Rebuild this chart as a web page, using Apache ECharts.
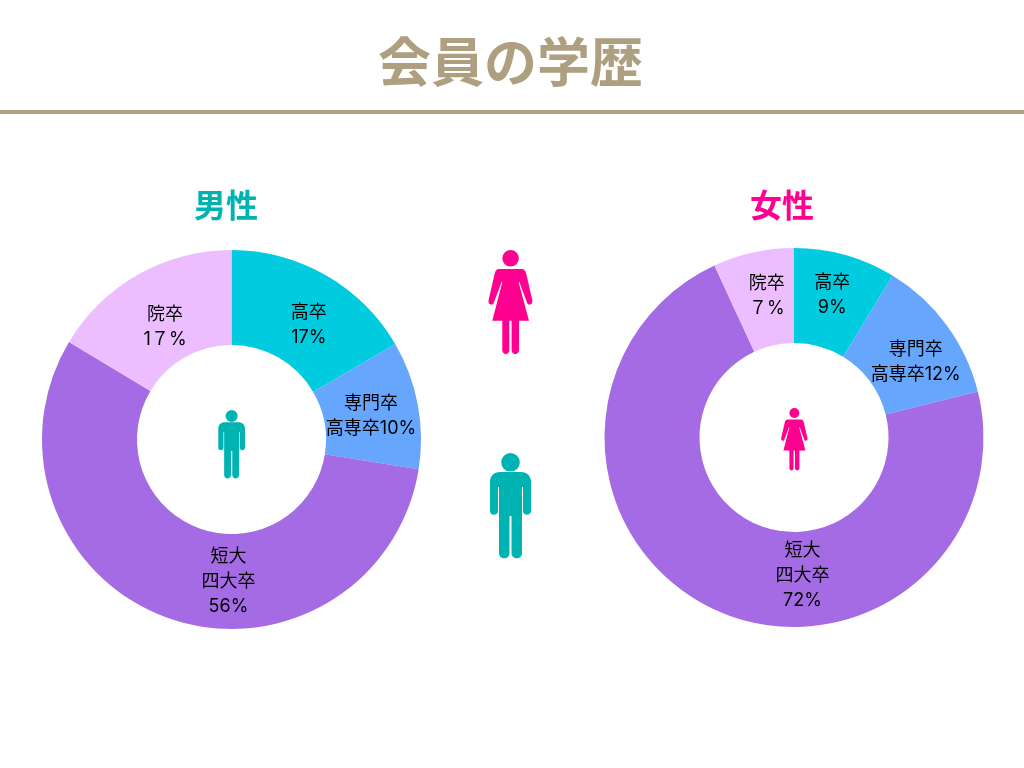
<!DOCTYPE html>
<html><head><meta charset="utf-8">
<style>html,body{margin:0;padding:0;background:#fff}#c{width:1024px;height:768px}</style>
<script src="https://cdn.jsdelivr.net/npm/echarts@6/dist/echarts.min.js"></script>
</head><body><div id="c"></div>
<script>
const pageTitle = '会員の学歴';
const maleTitle = '男性';
const femaleTitle = '女性';
const categories = ['高卒', '専門卒高専卒', '短大四大卒', '院卒'];
const maleValues = [16.6, 10.9, 56.1, 16.4];
const femaleValues = [8.7, 12.4, 72, 6.9];
const maleLabels = ['高卒\n17%', '専門卒\n高専卒10%', '短大\n四大卒\n56%', '院卒\n1７%'];
const femaleLabels = ['高卒\n9%', '専門卒\n高専卒12%', '短大\n四大卒\n72%', '院卒\n７%'];
const colors = ['#00CBDF', '#66A6FC', '#A56BE4', '#ECBEFF'];
const maleOffsets = [[5, 11.5], [-3, 3], [46.5, 5.5], [5, 14]];
const femaleOffsets = [[-1, -3], [5, 10.5], [71, 7], [4, 0]];

const MAN = 'M11.2 9.3a9.3 9.3 0 1 0 18.6 0a9.3 9.3 0 1 0-18.6 0zM10 19H31C37 19 41 23 41 29V58C41 63 33 63 33 58V34H32V100C32 107 21.5 107 21.5 100V63H19.5V100C19.5 107 9 107 9 100V34H8V58C8 63 0 63 0 58V29C0 23 4 19 10 19z';
const WOMAN = 'M14 8.3a8.3 8.3 0 1 0 16.6 0a8.3 8.3 0 1 0-16.6 0zM11 19H33C36 19 37.5 21 38 24L44 50C45 55 39.5 56.5 38.5 52L31 32L30.3 32L40.7 70.7H30.7V100C30.7 105.5 23.3 105.5 23.3 100V70.7H21V100C21 105.5 14 105.5 14 100V70.7H4L14 32L13.3 32L5.8 52C4.8 56.5 -0.7 55 .3 50L6.3 24C6.8 21 8 19 11 19z';
echarts.graphic.registerShape('manIcon', echarts.graphic.extendPath(MAN, {}));
echarts.graphic.registerShape('womanIcon', echarts.graphic.extendPath(WOMAN, {}));

function pie(center, values, labels, offsets) {
  return {
    type: 'pie', center, radius: [94.5, 189.5], startAngle: 90, clockwise: true, silent: true,
    animation: false, color: colors, itemStyle: { borderWidth: 0 },
    labelLine: { show: false },
    data: values.map((v, i) => ({
      name: categories[i], value: v,
      label: { show: true, position: 'inside', formatter: labels[i], offset: offsets[i],
        color: '#000', fontSize: 18, lineHeight: 25, fontWeight: 400,
        fontFamily: 'Inter, "Noto Sans CJK JP"', align: 'center' }
    }))
  };
}
function icon(type, x, y, scale, fill) {
  return { type, x, y, scaleX: scale, scaleY: scale, shape: {}, style: { fill } };
}
function heading(text, x, y, size, fill) {
  return { type: 'text', x, y, style: { text, fill, font: `bold ${size}px "Noto Sans CJK JP"`, align: 'center', verticalAlign: 'middle' } };
}
const chart = echarts.init(document.getElementById('c'), null, { renderer: 'canvas' });
chart.setOption({
  backgroundColor: '#fff', animation: false,
  series: [pie([231.5, 439.5], maleValues, maleLabels, maleOffsets), pie([794, 437.5], femaleValues, femaleLabels, femaleOffsets)],
  graphic: [
    heading(pageTitle, 510.5, 62, 53, '#AD9F80'),
    { type: 'rect', shape: { x: 0, y: 110, width: 1024, height: 4 }, style: { fill: '#AD9F80' } },
    heading(maleTitle, 226, 205, 32, '#00B3B3'),
    heading(femaleTitle, 782, 205, 32, '#FF0090'),
    icon('womanIcon', 488.3, 250, 1, '#FF0090'),
    icon('manIcon', 490, 453, 1, '#00B3B3'),
    icon('manIcon', 218.3, 410, 0.65, '#00B3B3'),
    icon('womanIcon', 781, 408, 0.6, '#FF0090')
  ]
});
</script></body></html>
